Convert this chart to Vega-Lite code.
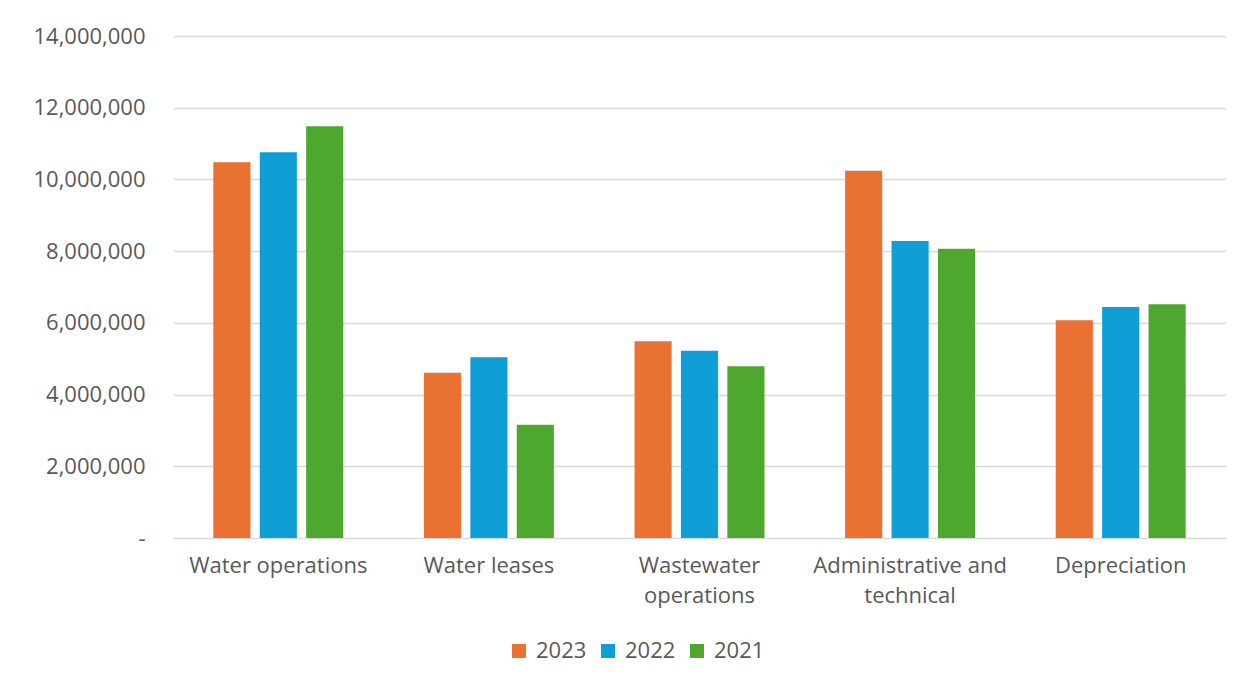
{
  "$schema": "https://vega.github.io/schema/vega-lite/v6.json",
  "autosize": "none",
  "width": 1053,
  "height": 502,
  "padding": {"left": 173, "top": 36, "right": 27, "bottom": 148},
  "background": "white",
  "config": {
    "view": {"stroke": null},
    "font": "Open Sans",
    "axis": {"labelColor": "#595959", "labelFont": "Open Sans"},
    "legend": {"labelColor": "#595959", "labelFont": "Open Sans"}
  },
  "data": {
    "values": [
      {"category": "Water operations", "year": "2023", "value": 10480000},
      {"category": "Water operations", "year": "2022", "value": 10760000},
      {"category": "Water operations", "year": "2021", "value": 11480000},
      {"category": "Water leases", "year": "2023", "value": 4610000},
      {"category": "Water leases", "year": "2022", "value": 5040000},
      {"category": "Water leases", "year": "2021", "value": 3160000},
      {"category": "Wastewater operations", "year": "2023", "value": 5490000},
      {"category": "Wastewater operations", "year": "2022", "value": 5220000},
      {"category": "Wastewater operations", "year": "2021", "value": 4790000},
      {"category": "Administrative and technical", "year": "2023", "value": 10240000},
      {"category": "Administrative and technical", "year": "2022", "value": 8280000},
      {"category": "Administrative and technical", "year": "2021", "value": 8070000},
      {"category": "Depreciation", "year": "2023", "value": 6070000},
      {"category": "Depreciation", "year": "2022", "value": 6440000},
      {"category": "Depreciation", "year": "2021", "value": 6520000}
    ]
  },
  "mark": {"type": "bar"},
  "encoding": {
    "x": {
      "field": "category",
      "type": "nominal",
      "sort": ["Water operations", "Water leases", "Wastewater operations", "Administrative and technical", "Depreciation"],
      "scale": {"paddingInner": 0.383, "paddingOuter": 0.1915},
      "axis": {
        "title": null,
        "labelAngle": 0,
        "labelFontSize": 22,
        "labelPadding": 17,
        "labelLineHeight": 30,
        "labelBaseline": "top",
        "labelLimit": 400,
        "ticks": false,
        "domain": false,
        "labelExpr": "datum.label == 'Wastewater operations' ? ['Wastewater', 'operations'] : datum.label == 'Administrative and technical' ? ['Administrative and', 'technical'] : datum.label"
      }
    },
    "xOffset": {
      "field": "year",
      "type": "nominal",
      "sort": ["2023", "2022", "2021"],
      "scale": {"paddingInner": 0.2, "paddingOuter": 0}
    },
    "y": {
      "field": "value",
      "type": "quantitative",
      "scale": {"domain": [0, 14000000], "nice": false},
      "axis": {
        "title": null,
        "values": [0, 2000000, 4000000, 6000000, 8000000, 10000000, 12000000, 14000000],
        "labelExpr": "datum.value == 0 ? '-' : format(datum.value, ',')",
        "labelFontSize": 22,
        "labelPadding": 28,
        "ticks": false,
        "domain": false,
        "grid": true,
        "gridColor": "#D9D9D9",
        "gridWidth": 1.5
      }
    },
    "color": {
      "field": "year",
      "type": "nominal",
      "sort": ["2023", "2022", "2021"],
      "scale": {"domain": ["2023", "2022", "2021"], "range": ["#E97132", "#0F9ED5", "#4EA72E"]},
      "legend": {
        "title": null,
        "orient": "none",
        "direction": "horizontal",
        "legendX": 335,
        "legendY": 604,
        "symbolType": "square",
        "symbolSize": 196,
        "symbolStrokeWidth": 0,
        "symbolOpacity": 1,
        "labelFontSize": 22,
        "labelOffset": 6,
        "columnPadding": 10
      }
    }
  }
}
